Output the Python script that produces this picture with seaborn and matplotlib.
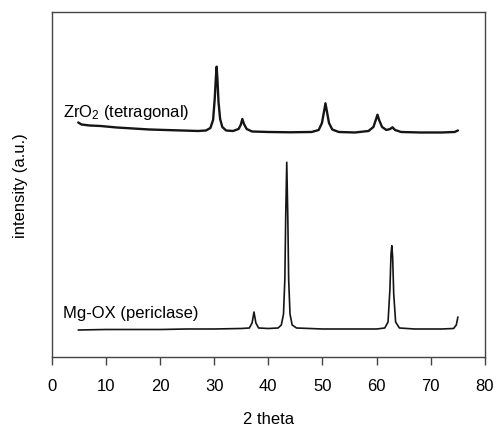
import numpy as np
import pandas as pd
import matplotlib
matplotlib.use("Agg")
import matplotlib.pyplot as plt
import seaborn as sns

# ZrO2 pattern (2 theta, intensity a.u.)
theta_zr = [4.9, 5.5, 7, 9, 12, 15, 18, 21, 24, 27, 28.5, 29.3, 29.8, 30.1, 30.3, 30.45,
            30.6, 30.8, 31.1, 31.5, 32.2, 33.5, 34.5, 34.9, 35.2, 35.5, 36.0, 37, 40, 44,
            48, 49.3, 49.9, 50.3, 50.55, 50.8, 51.2, 51.8, 53, 56, 58.5, 59.4, 59.9, 60.15,
            60.45, 61.0, 61.8, 62.5, 62.9, 63.4, 64.5, 68, 72, 74.4, 75.0]
int_zr = [234.5, 232.5, 231.5, 231, 229.5, 228.5, 227.5, 227, 226.5, 226, 226.5, 229, 237,
          258, 278, 290.3, 278, 255, 238, 230, 226.5, 226, 228, 232, 238, 233, 228, 225.5,
          225, 224.7, 225, 227, 234, 246, 253.7, 246, 234, 227.5, 225, 224.5, 226, 230, 238,
          242.3, 237, 230, 227, 228, 229.7, 227, 225, 224.5, 224.5, 225, 226.5]

# Mg-OX pattern
theta_mg = [4.9, 10, 15, 20, 25, 30, 35, 36.5, 37.0, 37.35, 37.7, 38.2, 40, 41.8, 42.4,
            42.8, 43.05, 43.2, 43.4, 43.6, 43.75, 44.0, 44.4, 45.2, 50, 55, 60, 61.5, 62.1,
            62.45, 62.65, 62.8, 62.95, 63.15, 63.5, 64.2, 67, 72, 74.2, 74.7, 75.0]
int_mg = [27, 27.5, 27.5, 27.5, 28, 28, 28.5, 29, 34, 45, 34, 29, 28.5, 29, 32,
          43, 78, 138, 194.7, 138, 78, 43, 32, 29, 28, 28, 28, 29, 35,
          68, 103, 111.3, 100, 63, 35, 29, 28, 28, 28.5, 32, 40]

labels = ["ZrO$_2$ (tetragonal)", "Mg-OX (periclase)"]
xticks = list(range(0, 81, 10))

sns.set_style("ticks")
plt.rcParams['font.family'] = ['Liberation Sans', 'DejaVu Sans']
plt.rcParams['mathtext.fontset'] = 'custom'
plt.rcParams['mathtext.rm'] = 'Liberation Sans'
plt.rcParams['mathtext.default'] = 'regular'
plt.rcParams['text.color'] = 'black'
plt.rcParams['axes.labelcolor'] = 'black'
plt.rcParams['xtick.labelcolor'] = 'black'

df_zr = pd.DataFrame({'theta': theta_zr, 'intensity': int_zr})
df_mg = pd.DataFrame({'theta': theta_mg, 'intensity': int_mg})

fig = plt.figure(figsize=(4.96, 4.27), dpi=100)
ax = fig.add_axes([0.1042, 0.1616, 0.8736, 0.8087])

sns.lineplot(data=df_zr, x='theta', y='intensity', ax=ax, color='#151515',
             linewidth=1.7, estimator=None)
sns.lineplot(data=df_mg, x='theta', y='intensity', ax=ax, color='#151515',
             linewidth=1.2, estimator=None)

ax.text(2.03, 241.3, labels[0], fontsize=12, va='baseline', ha='left')
ax.text(2.03, 39.7, labels[1], fontsize=12, va='baseline', ha='left')

ax.set_xlim(0, 80)
ax.set_ylim(0, 345.3)
ax.set_xticks(xticks)
ax.set_yticks([])
ax.tick_params(axis='x', direction='out', length=6, width=1, color='#444444',
               labelsize=12, pad=9)
for s in ax.spines.values():
    s.set_color('#444444')
    s.set_linewidth(1.0)

ax.set_xlabel('2 theta', fontsize=12, labelpad=13)
ax.set_ylabel('intensity (a.u.)', fontsize=12, labelpad=17)

fig.savefig('out.png', dpi=100)
